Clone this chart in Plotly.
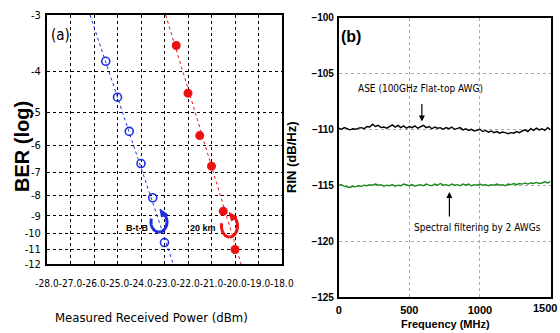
import math
import plotly.graph_objects as go

# ---------------- data: panel (a) ----------------
btb_power = [-25.5, -25.0, -24.5, -24.0, -23.5, -23.0]
btb_logber = [-3.8, -4.6, -5.55, -6.65, -8.1, -10.55]
km20_power = [-22.5, -22.0, -21.5, -21.0, -20.5, -20.0]
km20_logber = [-3.5, -4.5, -5.68, -6.75, -8.77, -11.0]
btb_fit_power = [-26.17, -22.63]
km20_fit_power = [-22.95, -19.74]
fit_logber = [-3, -12]
x_ticks_a = [-28.0, -27.0, -26.0, -25.0, -24.0, -23.0, -22.0, -21.0, -20.0, -19.0, -18.0]
y_ticks_a = [-3, -4, -5, -6, -7, -8, -9, -10, -11, -12]

# ---------------- data: panel (b) ----------------
freq = list(range(0, 1501, 20))
ase_rin = [-109.9, -110.0, -109.85, -109.95, -110.05, -109.95, -110.0, -109.9, -109.85, -109.95,
           -109.75, -109.8, -109.55, -109.75, -109.65, -109.85, -109.8, -109.9, -109.75, -109.6,
           -109.8, -109.65, -109.85, -109.7, -109.9, -109.75, -109.85, -109.7, -109.9, -109.8,
           -109.65, -109.85, -109.75, -109.95, -109.8, -109.9, -109.85, -110.0, -109.85, -109.95,
           -109.8, -110.0, -109.9, -109.85, -110.05, -109.95, -110.1, -110.0, -110.15, -110.05,
           -110.0, -110.2, -110.1, -110.25, -110.15, -110.3, -110.2, -110.35, -110.25, -110.3,
           -110.4, -110.3, -110.35, -110.2, -110.3, -110.15, -110.05, -110.2, -109.95, -110.1,
           -109.9, -110.05, -109.95, -110.1, -109.85, -110.05]
awg_rin = [-115.0, -114.95, -115.1, -115.15, -115.2, -115.1, -115.15, -115.05, -115.1, -115.0,
           -115.05, -114.95, -115.0, -114.9, -115.0, -114.95, -115.1, -115.0, -115.05, -114.95,
           -115.1, -115.0, -115.05, -114.9, -115.0, -115.05, -114.95, -115.1, -115.0, -114.95,
           -115.05, -114.9, -115.0, -115.05, -114.9, -115.0, -114.85, -115.0, -114.95, -115.05,
           -114.9, -115.0, -114.95, -115.05, -114.9, -115.0, -114.9, -115.05, -114.95, -115.0,
           -114.9, -115.0, -114.95, -115.05, -114.95, -115.0, -114.9, -115.0, -114.95, -115.05,
           -114.9, -114.95, -114.85, -114.95, -114.85, -114.9, -114.8, -114.9, -114.8, -114.85,
           -114.75, -114.85, -114.8, -114.7, -114.8, -114.65]
x_ticks_b = [0, 500, 1000, 1500]
y_ticks_b = [-100, -105, -110, -115, -120, -125]


def q_of(logber):
    """Q-factor for a BER of 10**logber (inverse of 0.5*erfc(Q/sqrt2))."""
    ber = 10 ** logber
    lo, hi = 0.0, 20.0
    for _ in range(200):
        mid = 0.5 * (lo + hi)
        if 0.5 * math.erfc(mid / math.sqrt(2)) > ber:
            lo = mid
        else:
            hi = mid
    return 0.5 * (lo + hi)


W, H = 560, 333
def px(x):
    return x / W
def py(y):
    return 1 - y / H

FONT = "DejaVu Sans Condensed, Liberation Sans, sans-serif"
BOLDF = "Liberation Sans, Arial, sans-serif"
BLUE = "#1f2fe0"
RED = "#ee1111"

fig = go.Figure()

# panel (a)
fig.add_trace(go.Scatter(x=btb_fit_power, y=[q_of(v) for v in fit_logber], mode="lines",
                         line=dict(color=BLUE, width=1, dash="dot"), xaxis="x", yaxis="y",
                         showlegend=False, hoverinfo="skip"))
fig.add_trace(go.Scatter(x=km20_fit_power, y=[q_of(v) for v in fit_logber], mode="lines",
                         line=dict(color=RED, width=1, dash="dot"), xaxis="x", yaxis="y",
                         showlegend=False, hoverinfo="skip"))
fig.add_trace(go.Scatter(x=btb_power, y=[q_of(v) for v in btb_logber], mode="markers",
                         marker=dict(symbol="circle-open", size=8, color=BLUE, line=dict(width=1.6)),
                         xaxis="x", yaxis="y", showlegend=False))
fig.add_trace(go.Scatter(x=km20_power, y=[q_of(v) for v in km20_logber], mode="markers",
                         marker=dict(symbol="circle", size=9, color=RED),
                         xaxis="x", yaxis="y", showlegend=False))

# panel (b)
fig.add_trace(go.Scatter(x=freq, y=ase_rin, mode="lines", line=dict(color="black", width=1.4),
                         xaxis="x2", yaxis="y2", showlegend=False))
fig.add_trace(go.Scatter(x=freq, y=awg_rin, mode="lines", line=dict(color="#1a8a1a", width=1.4),
                         xaxis="x2", yaxis="y2", showlegend=False))

qt = [q_of(v) for v in y_ticks_a]
fig.update_layout(
    width=W, height=H, margin=dict(l=0, r=0, t=0, b=0, pad=0, autoexpand=False),
    paper_bgcolor="white", plot_bgcolor="white",
    font=dict(family=FONT, color="black"),
    xaxis=dict(domain=[px(47), px(282)], range=[-28, -18], tickvals=x_ticks_a, anchor="y",
               ticktext=[f"{v:.1f}" for v in x_ticks_a], tickangle=0, automargin=False,
               tickfont=dict(size=10, family=FONT), ticks="", ticklabelstandoff=9,
               showgrid=True, gridcolor="black", griddash="dot", gridwidth=1,
               showline=True, linecolor="black", linewidth=2, mirror=True, zeroline=False),
    yaxis=dict(domain=[py(264), py(15)], type="log", anchor="x", automargin=False,
               range=[math.log10(q_of(-12)), math.log10(q_of(-3))],
               tickvals=qt, ticktext=[str(v) for v in y_ticks_a],
               tickfont=dict(size=11, family=FONT), ticks="", ticklabelstandoff=2,
               showgrid=True, gridcolor="black", griddash="dot", gridwidth=1,
               showline=True, linecolor="black", linewidth=2, mirror=True, zeroline=False),
    xaxis2=dict(domain=[px(338.7), px(550.5)], range=[0, 1500], tickvals=x_ticks_b, anchor="y2",
                tickangle=0, automargin=False,
                tickfont=dict(size=11, family=BOLDF, weight="bold"), ticks="", ticklabelstandoff=2,
                showgrid=True, gridcolor="#aaaaaa", griddash="dot", gridwidth=1,
                showline=True, linecolor="black", linewidth=1.5, mirror=True, zeroline=False),
    yaxis2=dict(domain=[py(297), py(17.5)], range=[-125, -100], tickvals=y_ticks_b, anchor="x2",
                automargin=False,
                tickfont=dict(size=10, family=BOLDF, weight="bold"), ticks="", ticklabelstandoff=1,
                showgrid=True, gridcolor="#aaaaaa", griddash="dot", gridwidth=1,
                showline=True, linecolor="black", linewidth=1.5, mirror=True, zeroline=False),
)

ann = []
def text(x, y, s, size, bold=False, angle=0, fam=FONT, xanchor="center"):
    ann.append(dict(x=px(x), y=py(y), xref="paper", yref="paper", text=s, showarrow=False,
                    textangle=angle, xanchor=xanchor, yanchor="middle",
                    font=dict(size=size, family=fam, color="black", weight="bold" if bold else "normal")))

text(60, 35.5, "(a)", 15)
text(351, 36, "(b)", 16, bold=True, fam=BOLDF)
text(151, 317, "Measured Received Power (dBm)", 13)
text(22, 147, "BER (log)", 20, bold=True, angle=-90, fam=BOLDF)
text(292, 157, "RIN (dB/Hz)", 13, bold=True, angle=-90, fam=BOLDF)
text(445, 324, "Frequency (MHz)", 11, bold=True, fam=BOLDF)
text(137, 228, "B-t-B", 9, bold=True, fam=BOLDF)
text(203, 228, "20 km", 9, bold=True, fam=BOLDF)
text(420, 88, "ASE (100GHz Flat-top AWG)", 10)
text(477, 227, "Spectral filtering by 2 AWGs", 10)
text(559, 307.5, "1500", 11, bold=True, fam=BOLDF, xanchor="right")

# arrows in panel (b)
ann.append(dict(x=589, y=-109.3, xref="x2", yref="y2", ax=0, ay=-19,
                text="", showarrow=True, arrowhead=2, arrowsize=1, arrowwidth=1.2, arrowcolor="black"))
ann.append(dict(x=784, y=-115.6, xref="x2", yref="y2", ax=0, ay=26,
                text="", showarrow=True, arrowhead=2, arrowsize=1, arrowwidth=1.2, arrowcolor="black"))
fig.update_layout(annotations=ann)

# circular arrows (decorations) in panel (a)
def arc_shape(cx, cy, rx, ry, a0, a1, color):
    n = 30
    pts = []
    for i in range(n + 1):
        a = math.radians(a0 + (a1 - a0) * i / n)
        pts.append((px(cx + rx * math.cos(a)), py(cy + ry * math.sin(a))))
    path = "M " + " L ".join(f"{x:.5f},{y:.5f}" for x, y in pts)
    return dict(type="path", path=path, xref="paper", yref="paper",
                line=dict(color=color, width=3))

def head_shape(tip, b1, b2, color):
    pts = [tip, b1, b2]
    path = "M " + " L ".join(f"{px(x):.5f},{py(y):.5f}" for x, y in pts) + " Z"
    return dict(type="path", path=path, xref="paper", yref="paper",
                fillcolor=color, line=dict(color=color, width=1))

shapes = []
shapes.append(arc_shape(159, 222, 8, 10, 200, 90, BLUE))
shapes.append(arc_shape(159, 222, 8, 10, 90, -55, BLUE))
shapes.append(head_shape((160, 209), (167.5, 214.5), (161.5, 217), BLUE))
shapes.append(arc_shape(229.5, 226, 8, 11, 195, 90, RED))
shapes.append(arc_shape(229.5, 226, 8, 11, 90, -60, RED))
shapes.append(head_shape((229, 212.5), (237, 217), (231.5, 221), RED))
fig.update_layout(shapes=shapes)

fig.write_html("out.html", config={"displayModeBar": False},
               post_script="document.body.style.margin='0';document.body.style.overflow='hidden';")
